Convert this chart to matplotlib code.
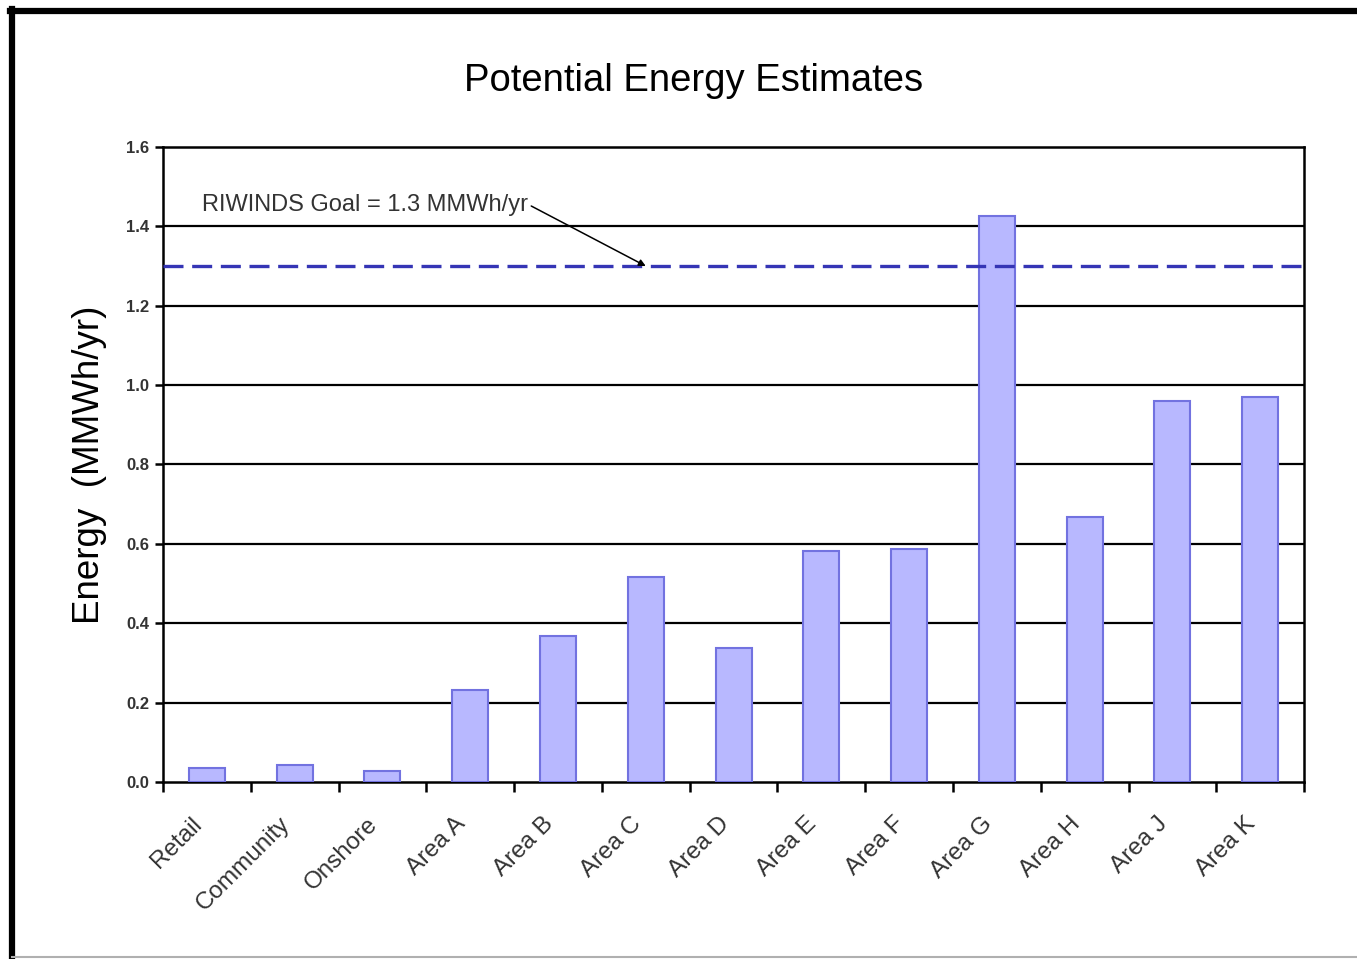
import numpy as np
import matplotlib
matplotlib.use("Agg")
from matplotlib import pyplot as plt
from matplotlib.lines import Line2D

plt.rcParams['font.family'] = ['Liberation Sans', 'DejaVu Sans']

# energy potential per site (MMWh/yr)
sites = ["Retail", "Community", "Onshore", "Area A", "Area B", "Area C", "Area D",
         "Area E", "Area F", "Area G", "Area H", "Area J", "Area K"]
energy = [0.035, 0.043, 0.028, 0.232, 0.368, 0.516, 0.338,
          0.582, 0.587, 1.426, 0.668, 0.960, 0.970]
goal = 1.3
yticks = [0.0, 0.2, 0.4, 0.6, 0.8, 1.0, 1.2, 1.4, 1.6]

fig = plt.figure(figsize=(13.57, 9.59), dpi=100)
ax = fig.add_axes([0.1201, 0.1846, 0.8409, 0.6621])

x = np.arange(len(sites))
ax.bar(x, energy, width=0.41, color="#b8b8ff", edgecolor="#7272e0", linewidth=1.5, zorder=3)

for y in yticks[1:-1]:
    ax.axhline(y, color="black", lw=1.6, zorder=1)
ax.axhline(goal, color="#3535b5", lw=2.4, ls=(0, (6, 2.6)), zorder=4)

ax.set_xlim(-0.5, len(sites) - 0.5)
ax.set_ylim(0, 1.6)
ax.set_yticks(yticks)
ax.set_yticklabels([f"{v:.1f}" for v in yticks], fontsize=12, color="#333333", fontweight="bold")

# tick marks at category boundaries, labels just left of the centres
ax.set_xticks(np.arange(-0.5, len(sites) + 0.5, 1))
ax.set_xticklabels([])
ax.set_xticks(x - 0.09, minor=True)
ax.set_xticklabels(sites, minor=True, rotation=45, ha="right", va="center",
                   rotation_mode="anchor", fontsize=17.5, color="#333333")
ax.tick_params(axis="x", which="major", direction="out", length=7, width=1.8)
ax.tick_params(axis="x", which="minor", length=0, pad=28)
ax.tick_params(axis="y", direction="out", length=6, width=1.8, pad=4)

for s in ax.spines.values():
    s.set_linewidth(1.8)
    s.set_color("black")

ax.set_ylabel("Energy  (MMWh/yr)", fontsize=26.5, labelpad=14)
fig.text(0.511, 0.916, "Potential Energy Estimates", fontsize=27.5, ha="center", va="center")

ax.annotate("RIWINDS Goal = 1.3 MMWh/yr", xy=(5.0, goal), xytext=(-0.05, 1.455),
            fontsize=17, color="#333333", va="center", ha="left",
            arrowprops=dict(arrowstyle="-|>", color="black", lw=1.1, relpos=(1.0, 0.5),
                            shrinkA=0, shrinkB=0, mutation_scale=10),
            zorder=5)

# page frame
fig.add_artist(Line2D([0.0074, 1.0], [0.9885, 0.9885], color="black", lw=4.5))
fig.add_artist(Line2D([0.0088, 0.0088], [0.0, 0.991], color="black", lw=4.5))
fig.add_artist(Line2D([0.0088, 1.0], [0.0026, 0.0026], color="#b0b0b0", lw=1.5))

fig.savefig("out.png", dpi=100)
